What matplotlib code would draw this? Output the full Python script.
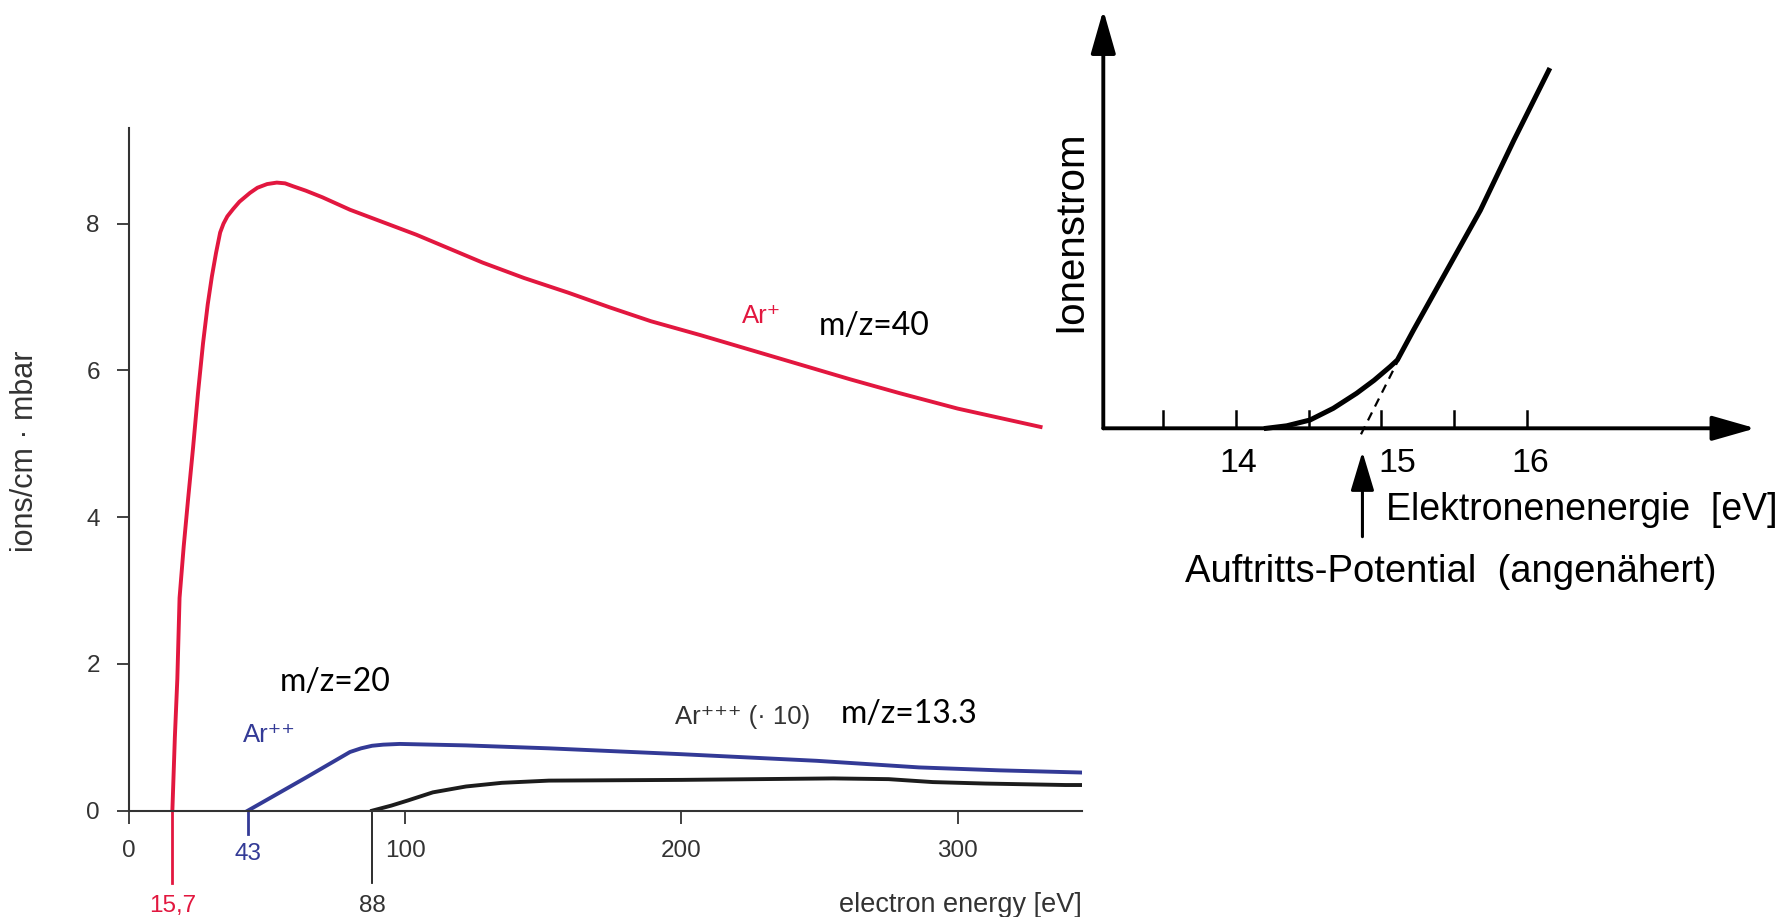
import matplotlib
matplotlib.use("Agg")
import matplotlib.pyplot as plt

plt.rcParams['font.family'] = ['Liberation Sans', 'DejaVu Sans']
plt.rcParams['mathtext.fontset'] = 'custom'
plt.rcParams['mathtext.rm'] = 'Liberation Sans'
plt.rcParams['mathtext.default'] = 'regular'

# left chart: Ar ionisation vs electron energy
ar1_x = [15.7, 16.6, 17.5, 18.3, 19.8, 21.4, 23.2, 25, 26.8, 28.5, 30, 31.5, 33, 34.2, 35.6,
         37.7, 40, 43.8, 46.5, 50, 53.5, 56.5, 59.4, 64, 70, 80, 92, 104, 116, 128, 143,
         159, 174, 189, 207, 225, 243, 261, 279, 300, 330]
ar1_y = [0, 1.0, 1.8, 2.9, 3.6, 4.25, 4.95, 5.7, 6.37, 6.9, 7.28, 7.6, 7.88, 8.0, 8.1,
         8.2, 8.3, 8.42, 8.49, 8.54, 8.56, 8.55, 8.51, 8.45, 8.36, 8.19, 8.02, 7.85, 7.66, 7.47, 7.26,
         7.06, 6.86, 6.67, 6.48, 6.28, 6.08, 5.88, 5.69, 5.48, 5.23]
ar2_x = [43, 64, 80, 84, 88, 92, 98, 122, 152, 200, 249, 286, 315, 345]
ar2_y = [0, 0.45, 0.80, 0.85, 0.885, 0.90, 0.91, 0.89, 0.85, 0.77, 0.68, 0.59, 0.55, 0.52]
ar3_x = [88, 95, 101, 110, 122, 135, 152, 200, 255, 275, 291, 310, 339, 345]
ar3_y = [0, 0.07, 0.14, 0.25, 0.33, 0.38, 0.41, 0.42, 0.44, 0.43, 0.39, 0.37, 0.35, 0.35]
thresholds = [15.7, 43, 88]
threshold_labels = ["15,7", "43", "88"]

# right chart: appearance potential sketch
ion_x = [14.21, 14.35, 14.51, 14.67, 14.83, 14.95, 15.06, 15.11, 15.22, 15.45, 15.68, 15.91, 16.15]
ion_y = [0, 0.025, 0.083, 0.2, 0.35, 0.48, 0.616, 0.683, 0.98, 1.58, 2.18, 2.88, 3.58]
rt_ticks = [13.5, 14, 14.5, 15, 15.5, 16]
rt_labels = [14, 15, 16]
appearance = 14.87

RED = '#e2173f'
BLUE = '#333a96'
DARK = '#1c1c1c'
GREY = '#333333'
SUP = '\u207a'

fig = plt.figure(figsize=(17.89, 9.17), dpi=100)
W, H = 1789, 917

ax = fig.add_axes([129 / W, (H - 810.7) / H, (1082 - 129) / W, (810.7 - 128.3) / H])
ax.set_xlim(0, 345)
ax.set_ylim(0, 9.3)
for s in ['top', 'right']:
    ax.spines[s].set_visible(False)
for s in ['left', 'bottom']:
    ax.spines[s].set_color(GREY)
    ax.spines[s].set_linewidth(1.5)
ax.set_xticks([0, 100, 200, 300])
ax.set_yticks([0, 2, 4, 6, 8])
ax.tick_params(direction='out', length=9, width=1.3, color=GREY, labelcolor=GREY, labelsize=17.5)
ax.tick_params(axis='x', pad=12)
ax.tick_params(axis='y', pad=12)

ax.plot(ar1_x, ar1_y, color=RED, lw=2.8)
ax.plot(ar2_x, ar2_y, color=BLUE, lw=2.8)
ax.plot(ar3_x, ar3_y, color=DARK, lw=2.8)

# threshold drop lines with labels
drop = [-0.98, -0.32, -0.98]
lab_y = [-1.38, -0.675, -1.38]
cols = [RED, BLUE, DARK]
widths = [2.0, 2.0, 1.3]
for t, lb, d, ly, c, w in zip(thresholds, threshold_labels, drop, lab_y, cols, widths):
    ax.plot([t, t], [0, d], color=c, lw=w, clip_on=False)
    ax.text(t, ly, lb, ha='center', va='baseline', color=c if c != DARK else GREY,
            fontsize=17.5, clip_on=False)

ax.text(222, 6.65, 'Ar' + SUP, color=RED, fontsize=18.5, va='baseline')
ax.text(41.4, 0.94, 'Ar' + SUP * 2, color=BLUE, fontsize=18.5, va='baseline')
ax.text(197.5, 1.18, 'Ar' + SUP * 3 + ' (· 10)', color=GREY, fontsize=18.5, va='baseline')
ax.text(249.7, 6.48, 'm/z=40', fontsize=23, family=['Lato', 'DejaVu Sans'], va='baseline')
ax.text(54.5, 1.63, 'm/z=20', fontsize=23, family=['Lato', 'DejaVu Sans'], va='baseline')
ax.text(257.6, 1.2, 'm/z=13.3', fontsize=23, family=['Lato', 'DejaVu Sans'], va='baseline')

fig.text(25 / W, 1 - 451 / H, 'ions/cm · mbar', rotation=90, ha='center', va='center',
         fontsize=22, color=GREY)
fig.text(1082 / W, 1 - 911.7 / H, 'electron energy [eV]', ha='right', va='baseline',
         fontsize=19.5, color=GREY)

# right chart
ax2 = fig.add_axes([1095 / W, (H - 600) / H, 694 / W, 600 / H])
ax2.set_xlim(13.033, 17.80)
ax2.set_ylim(-1.717, 4.283)
ax2.axis('off')

arrow = dict(arrowstyle='-|>,head_length=1.33,head_width=0.38', mutation_scale=20,
             lw=2.8, color='black', shrinkA=0, shrinkB=0)
ax2.annotate('', xy=(17.57, 0), xytext=(13.09, 0), arrowprops=arrow)
ax2.annotate('', xy=(13.09, 4.183), xytext=(13.09, 0), arrowprops=arrow)
for t in rt_ticks:
    ax2.plot([t, t], [0, 0.17], color='black', lw=1.8)

ax2.plot(ion_x, ion_y, color='black', lw=3.6, solid_joinstyle='round')
ax2.plot([appearance - 0.01, 15.14], [-0.06, 0.75], color='black', lw=1.6, dashes=(4, 3))

up = dict(arrowstyle='-|>,head_length=1.2,head_width=0.36', mutation_scale=20,
          lw=2.2, color='black', shrinkA=0, shrinkB=0)
ax2.annotate('', xy=(appearance, -0.234), xytext=(appearance, -1.084), arrowprops=up)

for v in rt_labels:
    if v == 15:
        ax2.text(14.98, -0.434, str(v), ha='left', va='baseline', fontsize=24.5)
    else:
        ax2.text(v + 0.02, -0.434, str(v), ha='center', va='baseline', fontsize=24.5)

ax2.text(15.03, -0.917, 'Elektronenenergie  [eV]', ha='left', va='baseline', fontsize=27)
ax2.text(13.65, -1.534, 'Auftritts-Potential  (angenähert)', ha='left', va='baseline', fontsize=27.5)
fig.text(1070 / W, 1 - 231 / H, 'Ionenstrom', rotation=90, ha='center', va='center', fontsize=29)

fig.savefig('out.png', dpi=100)
